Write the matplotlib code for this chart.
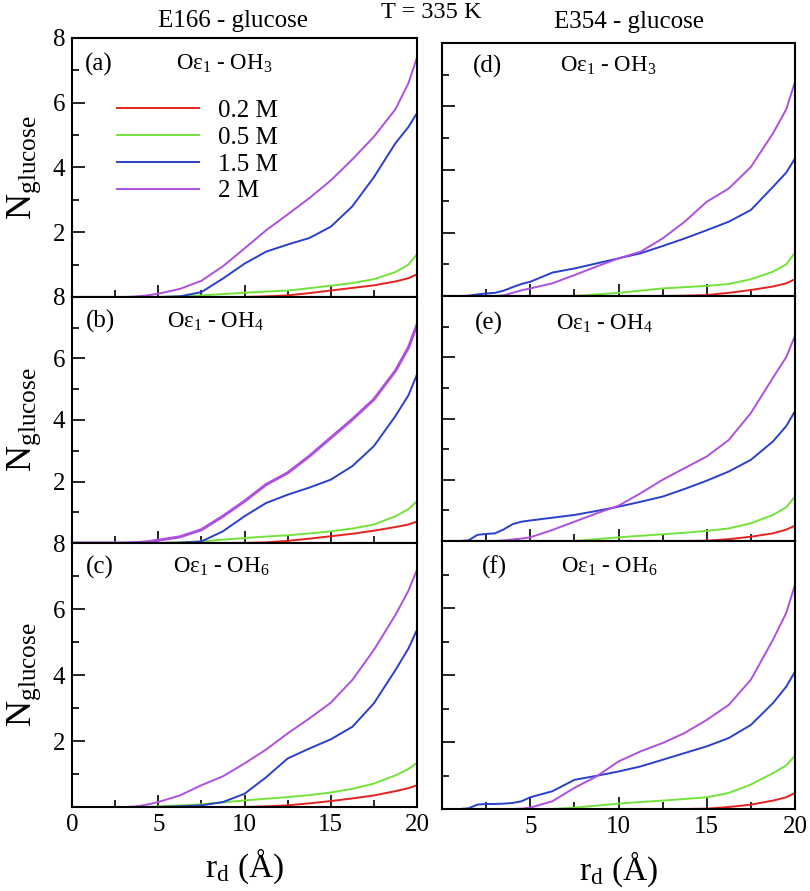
import matplotlib
matplotlib.use("Agg")
import matplotlib.pyplot as plt
from matplotlib.ticker import MultipleLocator

# DATA
# =======================================

r_d = [0, 1, 1.5, 2, 2.5, 3, 3.5, 4, 4.5, 5, 6.25, 7.5, 8.75, 10,
       11.25, 12.5, 13.75, 15, 16.25, 17.5, 18.75, 19.5, 20]

conc_labels = ["0.2 M", "0.5 M", "1.5 M", "2 M"]

# each panel: [0.2 M, 0.5 M, 1.5 M, 2 M]
panel_a = [
    [0, 0, 0, 0, 0, 0, 0, 0, 0, 0, 0, 0, 0, 0, 0.02, 0.05, 0.12, 0.2, 0.28, 0.36, 0.48, 0.58, 0.7],
    [0, 0, 0, 0, 0, 0, 0, 0, 0, 0, 0.02, 0.05, 0.09, 0.13, 0.17, 0.2, 0.27, 0.35, 0.43, 0.55, 0.77, 1.0, 1.32],
    [0, 0, 0, 0, 0, 0, 0, 0, 0, 0, 0.02, 0.15, 0.57, 1.03, 1.4, 1.62, 1.82, 2.17, 2.8, 3.7, 4.75, 5.25, 5.68],
    [0, 0, 0, 0, 0, 0, 0.01, 0.03, 0.06, 0.1, 0.25, 0.5, 0.95, 1.5, 2.06, 2.55, 3.05, 3.6, 4.25, 4.95, 5.8, 6.6, 7.4],
]
panel_b = [
    [0, 0, 0, 0, 0, 0, 0, 0, 0, 0, 0, 0, 0, 0, 0.02, 0.07, 0.14, 0.22, 0.3, 0.4, 0.52, 0.6, 0.7],
    [0, 0, 0, 0, 0, 0, 0, 0, 0, 0, 0.02, 0.05, 0.11, 0.16, 0.21, 0.25, 0.31, 0.38, 0.47, 0.6, 0.87, 1.1, 1.36],
    [0, 0, 0, 0, 0, 0, 0, 0, 0, 0, 0.01, 0.05, 0.38, 0.87, 1.3, 1.57, 1.8, 2.06, 2.5, 3.15, 4.13, 4.8, 5.48],
    [0, 0, 0, 0, 0, 0, 0.01, 0.02, 0.05, 0.09, 0.2, 0.43, 0.87, 1.36, 1.9, 2.28, 2.82, 3.42, 4.02, 4.67, 5.6, 6.35, 7.1],
]
panel_c = [
    [0, 0, 0, 0, 0, 0, 0, 0, 0, 0, 0, 0, 0, 0, 0.02, 0.05, 0.11, 0.18, 0.26, 0.35, 0.48, 0.57, 0.66],
    [0, 0, 0, 0, 0, 0, 0, 0, 0.01, 0.02, 0.05, 0.08, 0.14, 0.2, 0.25, 0.3, 0.36, 0.44, 0.55, 0.71, 0.96, 1.15, 1.34],
    [0, 0, 0, 0, 0, 0, 0, 0, 0, 0, 0.02, 0.05, 0.15, 0.4, 0.9, 1.47, 1.77, 2.05, 2.43, 3.14, 4.15, 4.8, 5.37],
    [0, 0, 0, 0, 0, 0, 0.01, 0.04, 0.09, 0.15, 0.35, 0.66, 0.93, 1.32, 1.74, 2.23, 2.68, 3.16, 3.85, 4.76, 5.82, 6.55, 7.19],
]
panel_d = [
    [0, 0, 0, 0, 0, 0, 0, 0, 0, 0, 0, 0, 0, 0, 0, 0, 0.01, 0.03, 0.1, 0.19, 0.3, 0.4, 0.53],
    [0, 0, 0, 0, 0, 0, 0, 0, 0, 0, 0, 0, 0.05, 0.1, 0.17, 0.24, 0.28, 0.32, 0.38, 0.53, 0.77, 1.0, 1.37],
    [0, 0, 0.01, 0.05, 0.08, 0.1, 0.17, 0.28, 0.38, 0.45, 0.74, 0.87, 1.03, 1.19, 1.35, 1.58, 1.82, 2.08, 2.35, 2.72, 3.45, 3.9, 4.35],
    [0, 0, 0, 0, 0, 0, 0.02, 0.1, 0.18, 0.24, 0.4, 0.66, 0.93, 1.19, 1.4, 1.82, 2.35, 2.98, 3.4, 4.08, 5.14, 5.9, 6.77],
]
panel_e = [
    [0, 0, 0, 0, 0, 0, 0, 0, 0, 0, 0, 0, 0, 0, 0, 0, 0, 0.01, 0.06, 0.14, 0.25, 0.37, 0.5],
    [0, 0, 0, 0, 0, 0, 0, 0, 0, 0, 0, 0, 0.06, 0.12, 0.17, 0.22, 0.27, 0.33, 0.41, 0.58, 0.85, 1.1, 1.45],
    [0, 0, 0.02, 0.2, 0.23, 0.25, 0.38, 0.55, 0.63, 0.67, 0.76, 0.85, 0.98, 1.12, 1.28, 1.45, 1.7, 1.97, 2.27, 2.65, 3.25, 3.75, 4.24],
    [0, 0, 0, 0, 0, 0, 0.02, 0.05, 0.08, 0.12, 0.36, 0.63, 0.9, 1.15, 1.56, 2.0, 2.38, 2.76, 3.3, 4.18, 5.33, 6.0, 6.7],
]
panel_f = [
    [0, 0, 0, 0, 0, 0, 0, 0, 0, 0, 0, 0, 0, 0, 0, 0, 0, 0.01, 0.06, 0.13, 0.25, 0.35, 0.48],
    [0, 0, 0, 0, 0, 0, 0, 0, 0, 0, 0, 0.04, 0.1, 0.16, 0.21, 0.25, 0.3, 0.35, 0.48, 0.73, 1.07, 1.3, 1.59],
    [0, 0, 0.02, 0.13, 0.15, 0.15, 0.16, 0.18, 0.23, 0.35, 0.53, 0.87, 0.99, 1.12, 1.27, 1.47, 1.67, 1.87, 2.12, 2.51, 3.16, 3.65, 4.1],
    [0, 0, 0, 0, 0, 0, 0, 0, 0.01, 0.04, 0.23, 0.63, 0.97, 1.42, 1.72, 1.97, 2.27, 2.66, 3.11, 3.86, 5.05, 5.85, 6.69],
]

panel_tags = ["(a)", "(b)", "(c)", "(d)", "(e)", "(f)"]
pair_subs = ["3", "4", "6", "3", "4", "6"]
x_ticks = [0, 5, 10, 15, 20]
x_ticklabels_left = ["0", "5", "10", "15", "20"]
x_ticklabels_right = ["", "5", "10", "15", "20"]
y_ticks = [0, 2, 4, 6, 8]
y_ticklabels = ["", "2", "4", "6", "8"]

# STYLE
# =======================================

plt.rcParams['font.family'] = ['Liberation Serif', 'DejaVu Serif']
plt.rcParams['mathtext.fontset'] = 'custom'
plt.rcParams['mathtext.rm'] = 'Liberation Serif'
plt.rcParams['mathtext.it'] = 'Liberation Serif:italic'

colors = ['#e6221e', '#74e23a', '#2a40cc', '#ad50e0']

W, H = 810, 891
fig = plt.figure(figsize=(W / 100, H / 100), dpi=100)

# axes boxes in pixels: (left, top, right, bottom)
boxes = [
    (72, 38, 417, 297), (72, 297, 417, 543), (72, 543, 417, 807),
    (442, 43, 795, 296), (442, 296, 795, 541), (442, 541, 795, 809),
]
# label anchors (axes fraction): tag x, pair text x, baseline y
text_pos = [
    (0.038, 0.30, 0.876), (0.040, 0.275, 0.874), (0.040, 0.293, 0.886),
    (0.088, 0.334, 0.885), (0.093, 0.323, 0.861), (0.113, 0.337, 0.880),
]

panels = [panel_a, panel_b, panel_c, panel_d, panel_e, panel_f]

for i, (box, data) in enumerate(zip(boxes, panels)):
    l, t, r, b = box
    ax = fig.add_axes([l / W, 1 - b / H, (r - l) / W, (b - t) / H])

    for j, series in enumerate(data):
        lw = 2.2 if (i == 1 and j == 3) else 1.4
        ax.plot(r_d, series, color=colors[j], lw=lw, label=conc_labels[j])

    ax.set_xlim(0, 20)
    ax.set_ylim(0, 8)
    ax.set_xticks(x_ticks)
    ax.xaxis.set_minor_locator(MultipleLocator(2.5))
    ax.set_yticks(y_ticks)
    ax.yaxis.set_minor_locator(MultipleLocator(1))
    ax.tick_params(which='both', direction='in', top=False, right=False,
                   width=1.2, labelsize=18)
    ax.tick_params(which='major', length=9)
    ax.tick_params(which='minor', length=5)
    ax.tick_params(axis='x', pad=5)
    ax.tick_params(axis='y', pad=5)
    for sp in ax.spines.values():
        sp.set_linewidth(1.5)

    left_col = i < 3
    bottom_row = i in (2, 5)

    if left_col:
        ax.set_yticklabels(y_ticklabels)
        ax.set_ylabel(r'$\mathrm{N_{glucose}}$', fontsize=26)
        ax.yaxis.set_label_coords(-0.085, 0.5)
    else:
        ax.set_yticklabels([])

    if bottom_row:
        ax.set_xticklabels(x_ticklabels_left if left_col else x_ticklabels_right)
        ax.set_xlabel(r'$\mathrm{r_d}$ (Å)', fontsize=24)
        ax.xaxis.set_label_coords(0.5, -0.15)
    else:
        ax.set_xticklabels([])

    tx, px, by = text_pos[i]
    ax.text(tx, by, panel_tags[i], transform=ax.transAxes, fontsize=18,
            va='baseline', ha='left')
    ax.text(px, by, r'O$\mathrm{\varepsilon_1}$ - OH$_{\mathrm{%s}}$' % pair_subs[i],
            transform=ax.transAxes, fontsize=16.5, va='baseline', ha='left')

    if i == 0:
        ax.legend(loc='upper left', bbox_to_anchor=(0.13, 0.762), frameon=False,
                  fontsize=18, handlelength=3.3, handletextpad=0.75,
                  labelspacing=0.17, borderpad=0, borderaxespad=0)

fig.text(233 / W, 1 - 21 / H, "E166 - glucose", fontsize=18, ha='center', va='center')
fig.text(629 / W, 1 - 22 / H, "E354 - glucose", fontsize=18, ha='center', va='center')
fig.text(431 / W, 1 - 12 / H, "T = 335 K", fontsize=17.5, ha='center', va='center')

fig.savefig("out.png", dpi=100)
